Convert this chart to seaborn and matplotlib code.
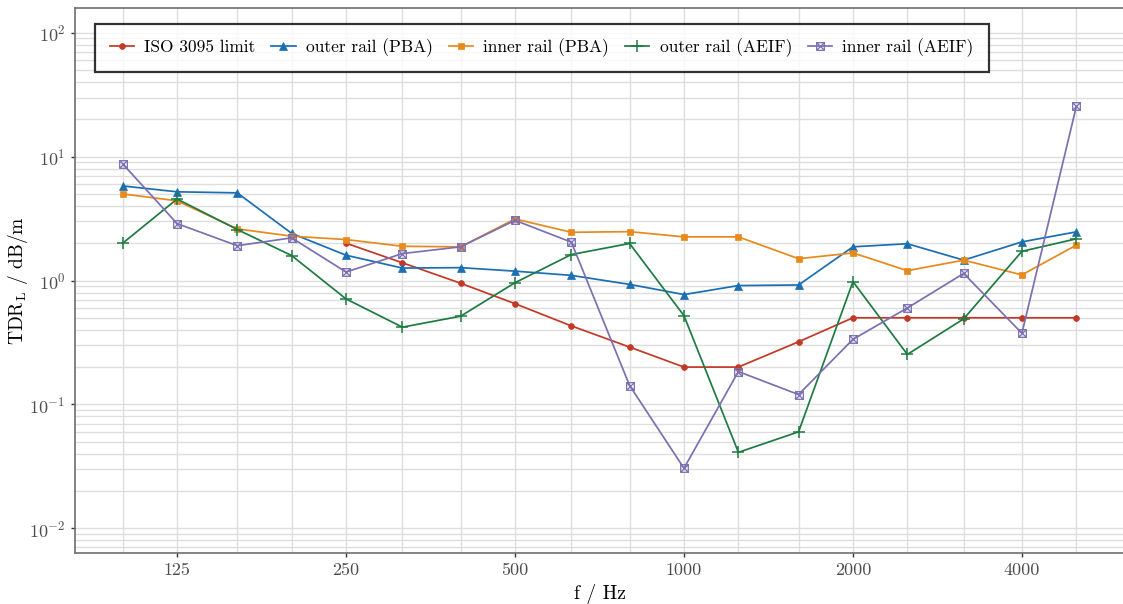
import numpy as np
import pandas as pd
import matplotlib
matplotlib.use("Agg")
import matplotlib.pyplot as plt
from matplotlib.path import Path
from matplotlib.ticker import FixedLocator, FixedFormatter, LogLocator, LogFormatterSciNotation, NullFormatter
import seaborn as sns

# ---- data ----
freqs = [100, 125, 160, 200, 250, 315, 400, 500, 630, 800, 1000, 1250, 1600, 2000, 2500, 3150, 4000, 5000]
iso_freqs = [250, 315, 400, 500, 630, 800, 1000, 1250, 1600, 2000, 2500, 3150, 4000, 5000]
iso_limit = [2.0, 1.39, 0.95, 0.65, 0.43, 0.29, 0.2, 0.2, 0.32, 0.5, 0.5, 0.5, 0.5, 0.5]
outer_pba = [5.8, 5.2, 5.1, 2.4, 1.6, 1.26, 1.27, 1.19, 1.10, 0.93, 0.77, 0.91, 0.92, 1.87, 1.98, 1.46, 2.05, 2.47]
inner_pba = [5.0, 4.4, 2.61, 2.28, 2.14, 1.89, 1.87, 3.14, 2.45, 2.48, 2.25, 2.25, 1.50, 1.67, 1.20, 1.46, 1.11, 1.93]
outer_aeif = [2.0, 4.55, 2.58, 1.59, 0.71, 0.42, 0.515, 0.96, 1.62, 1.99, 0.52, 0.041, 0.06, 0.98, 0.253, 0.49, 1.72, 2.17]
inner_aeif = [8.75, 2.88, 1.91, 2.21, 1.17, 1.65, 1.87, 3.06, 2.04, 0.142, 0.0305, 0.184, 0.12, 0.335, 0.60, 1.14, 0.375, 25.4]
x_tick_labels = ["125", "250", "500", "1000", "2000", "4000"]
x_ticks = [125, 250, 500, 1000, 2000, 4000]

plt.rcParams['font.family'] = ['cmr10', 'DejaVu Serif']
plt.rcParams['mathtext.fontset'] = 'cm'
plt.rcParams['axes.unicode_minus'] = False
plt.rcParams['axes.formatter.use_mathtext'] = True

# boxed-x marker
verts = [(-1, -1), (1, -1), (1, 1), (-1, 1), (-1, -1), (-1, -1), (1, 1), (-1, 1), (1, -1)]
codes = [Path.MOVETO, Path.LINETO, Path.LINETO, Path.LINETO, Path.LINETO,
         Path.MOVETO, Path.LINETO, Path.MOVETO, Path.LINETO]
boxx = Path(verts, codes)

fig = plt.figure(figsize=(11.23, 6.04), dpi=100)
ax = fig.add_axes([75/1123, 51/604, 1049/1123, 545/604])

series = [
    ("ISO 3095 limit", iso_freqs, iso_limit, "#C23A26", "o", 4.2, None),
    ("outer rail (PBA)", freqs, outer_pba, "#1A6FB3", "^", 5.5, None),
    ("inner rail (PBA)", freqs, inner_pba, "#E8891C", "s", 4.8, None),
    ("outer rail (AEIF)", freqs, outer_aeif, "#1E7B42", "+", 8, None),
    ("inner rail (AEIF)", freqs, inner_aeif, "#7A70B2", boxx, 5.5, "none"),
]
for name, xs, ys, col, mk, ms, mfc in series:
    df = pd.DataFrame({"f": xs, "v": ys})
    kw = dict(marker=mk, markersize=ms, markeredgecolor=col)
    if mfc is not None:
        kw["markerfacecolor"] = mfc
        kw["markeredgewidth"] = 0.9
    elif mk == "+":
        kw["markeredgewidth"] = 1.1
    else:
        kw["markerfacecolor"] = col
        kw["markeredgewidth"] = 0.5
    sns.lineplot(data=df, x="f", y="v", ax=ax, color=col, linewidth=1.25, label=name, **kw)

ax.set_xscale("log")
ax.set_yscale("log")
lo, hi = np.log10(100), np.log10(5000)
pad = 0.05 * (hi - lo)
ax.set_xlim(10**(lo - pad), 10**(hi + pad))
ax.set_ylim(10**-2.2, 10**2.2)

ax.xaxis.set_major_locator(FixedLocator(x_ticks))
ax.xaxis.set_major_formatter(FixedFormatter(x_tick_labels))
ax.xaxis.set_minor_locator(FixedLocator(freqs))
ax.xaxis.set_minor_formatter(NullFormatter())
ax.yaxis.set_major_locator(LogLocator(base=10, numticks=10))
ax.yaxis.set_major_formatter(LogFormatterSciNotation())
ax.yaxis.set_minor_locator(LogLocator(base=10, subs=np.arange(2, 10), numticks=20))
ax.yaxis.set_minor_formatter(NullFormatter())

ax.grid(True, which="both", color="#DEDEDE", linewidth=1.0)
ax.set_axisbelow(True)
ax.tick_params(which="major", length=3, width=1, color="#333333", labelsize=13, labelcolor="#4D4D4D", pad=4)
ax.tick_params(which="minor", length=0)
for s in ax.spines.values():
    s.set_color("#6E6E6E")
    s.set_linewidth(1.2)
ax.set_facecolor("white")

ax.set_xlabel("f / Hz", fontsize=14, labelpad=4)
ax.set_ylabel(r"TDR$_\mathrm{L}$ / dB/m", fontsize=14)
ax.yaxis.set_label_coords(-45/1049, 0.5)

leg = ax.legend(loc="upper left", bbox_to_anchor=(0.019, 0.971), borderaxespad=0, ncol=5,
                fontsize=12.5, frameon=True, fancybox=False, handlelength=1.4, columnspacing=0.9,
                handletextpad=0.6, borderpad=0.85)
leg.get_frame().set_edgecolor("black")
leg.get_frame().set_linewidth(1.6)

fig.savefig("out.png", dpi=100)
